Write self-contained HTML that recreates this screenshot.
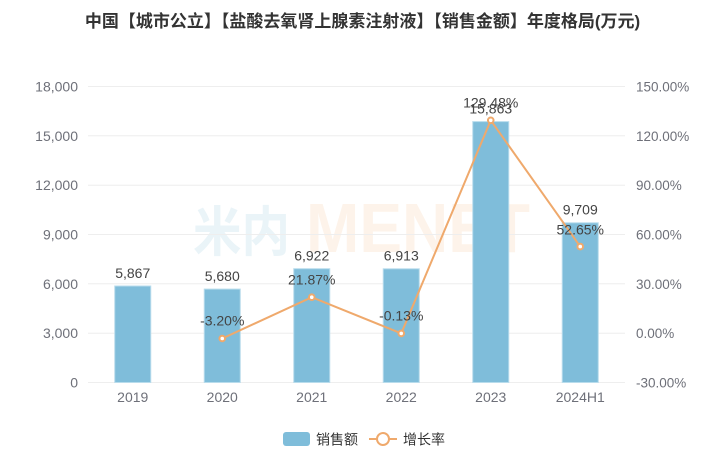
<!DOCTYPE html>
<html><head><meta charset="utf-8"><style>
html,body{margin:0;padding:0;background:#fff;}
svg{display:block;}
text{font-family:"Liberation Sans","Noto Sans CJK SC",sans-serif;}
</style></head><body>
<svg width="725" height="450" viewBox="0 0 725 450" xmlns="http://www.w3.org/2000/svg">
<rect width="725" height="450" fill="#fff"/>
<text x="362.5" y="27" text-anchor="middle" font-size="17" font-weight="bold" fill="#333">中国【城市公立】【盐酸去氧肾上腺素注射液】【销售金额】年度格局(万元)</text>
<!-- watermark -->
<text x="193" y="251" font-size="54" font-weight="bold" fill="#eaf4f8" textLength="97" lengthAdjust="spacingAndGlyphs" style="font-family:'Noto Sans CJK SC',sans-serif">米内</text>
<text x="306" y="252" font-size="70" font-weight="bold" fill="#fdf3ea" textLength="224" lengthAdjust="spacingAndGlyphs">MENET</text>
<!-- grid -->
<g stroke="#eeeeee" stroke-width="1">
<line x1="88" y1="86.5" x2="625" y2="86.5"/>
<line x1="88" y1="135.8" x2="625" y2="135.8"/>
<line x1="88" y1="185.2" x2="625" y2="185.2"/>
<line x1="88" y1="234.5" x2="625" y2="234.5"/>
<line x1="88" y1="283.8" x2="625" y2="283.8"/>
<line x1="88" y1="333.2" x2="625" y2="333.2"/>
<line x1="88" y1="382.5" x2="625" y2="382.5"/>
</g>
<!-- left ticks -->
<g font-size="14" fill="#6e7079" text-anchor="end">
<text x="78" y="91.5">18,000</text>
<text x="78" y="140.8">15,000</text>
<text x="78" y="190.2">12,000</text>
<text x="78" y="239.5">9,000</text>
<text x="78" y="288.8">6,000</text>
<text x="78" y="338.2">3,000</text>
<text x="78" y="387.5">0</text>
</g>
<g font-size="13.5" fill="#6e7079" text-anchor="start">
<text x="636" y="91.5">150.00%</text>
<text x="636" y="140.8">120.00%</text>
<text x="636" y="190.2">90.00%</text>
<text x="636" y="239.5">60.00%</text>
<text x="636" y="288.8">30.00%</text>
<text x="636" y="338.2">0.00%</text>
<text x="636" y="387.5">-30.00%</text>
</g>
<!-- bars -->
<g fill="#7fbdda" stroke="#b8dcec" stroke-width="1">
<rect x="114.75" y="286.0" width="36" height="96.5"/>
<rect x="204.25" y="289.1" width="36" height="93.4"/>
<rect x="293.75" y="268.7" width="36" height="113.8"/>
<rect x="383.25" y="268.8" width="36" height="113.7"/>
<rect x="472.75" y="121.6" width="36" height="260.9"/>
<rect x="562.25" y="222.8" width="36" height="159.7"/>
</g>
<!-- x labels -->
<g font-size="14" fill="#6e7079" text-anchor="middle">
<text x="132.75" y="402">2019</text>
<text x="222.25" y="402">2020</text>
<text x="311.75" y="402">2021</text>
<text x="401.25" y="402">2022</text>
<text x="490.75" y="402">2023</text>
<text x="580.25" y="402">2024H1</text>
</g>
<!-- bar labels -->
<g font-size="14" fill="#444" text-anchor="middle">
<text x="132.75" y="278">5,867</text>
<text x="222.25" y="281">5,680</text>
<text x="311.75" y="260.5">6,922</text>
<text x="401.25" y="260.5">6,913</text>
<text x="490.75" y="113.5">15,863</text>
<text x="580.25" y="214.5">9,709</text>
</g>
<!-- line -->
<polyline points="222.25,338.5 311.75,297.2 401.25,333.4 490.75,120.3 580.25,246.6" fill="none" stroke="#efa96c" stroke-width="2"/>
<g fill="#fff" stroke="#efa96c" stroke-width="2">
<circle cx="222.25" cy="338.5" r="2.8"/>
<circle cx="311.75" cy="297.2" r="2.8"/>
<circle cx="401.25" cy="333.4" r="2.8"/>
<circle cx="490.75" cy="120.3" r="2.8"/>
<circle cx="580.25" cy="246.6" r="2.8"/>
</g>
<g font-size="14" fill="#444" text-anchor="middle">
<text x="222.25" y="325.5">-3.20%</text>
<text x="311.75" y="284.5">21.87%</text>
<text x="401.25" y="320.5">-0.13%</text>
<text x="490.75" y="107.5">129.48%</text>
<text x="580.25" y="234.5">52.65%</text>
</g>
<!-- legend -->
<rect x="283" y="432" width="27" height="14" rx="3" fill="#7fbdda"/>
<text x="316" y="444.5" font-size="14" fill="#333">销售额</text>
<line x1="369" y1="439" x2="397" y2="439" stroke="#efa96c" stroke-width="2"/>
<circle cx="383" cy="439" r="6" fill="#fff" stroke="#efa96c" stroke-width="2"/>
<text x="403" y="444.5" font-size="14" fill="#333">增长率</text>
</svg>
</body></html>
